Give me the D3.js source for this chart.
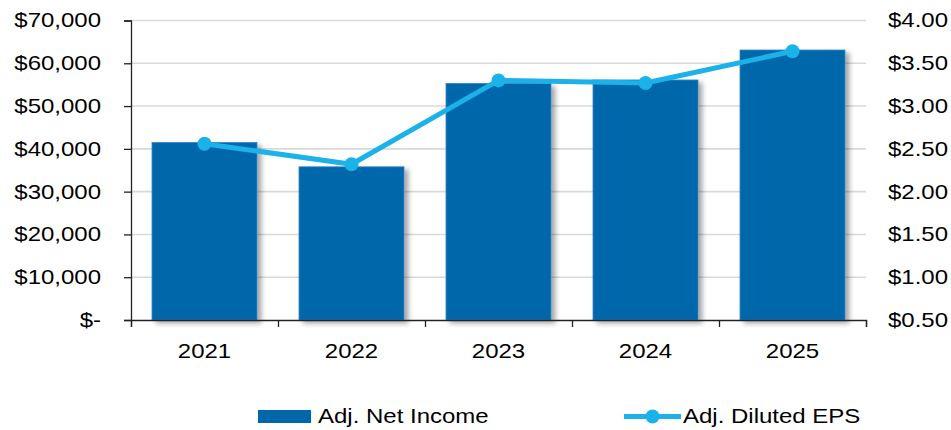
<!DOCTYPE html>
<html>
<head>
<meta charset="utf-8">
<script src="https://cdn.jsdelivr.net/npm/d3@7/dist/d3.min.js"></script>
<style>
  html, body { margin: 0; padding: 0; background: #fff; }
  svg { display: block; }
  text { font-family: "Liberation Sans", Arial, sans-serif; fill: #000; }
</style>
</head>
<body>
<svg id="chart" width="951" height="430"></svg>
<script>
const years = ["2021", "2022", "2023", "2024", "2025"];
const netIncome = [41500, 35800, 55300, 56100, 63100];
const dilutedEPS = [2.56, 2.32, 3.30, 3.27, 3.64];
const leftTicks = [0, 10000, 20000, 30000, 40000, 50000, 60000, 70000];
const rightTicks = [0.5, 1.0, 1.5, 2.0, 2.5, 3.0, 3.5, 4.0];
const seriesNames = ["Adj. Net Income", "Adj. Diluted EPS"];

const BAR = "#0068aa", LINE = "#1ab2e9", GRID = "#d9d9d9";
const SX = 1.2, FS = 20;

const svg = d3.select("#chart");
const L = 131, R = 866, T = 20.5, B = 320;

const defs = svg.append("defs");
const f = defs.append("filter").attr("id", "shadow")
  .attr("x", "-10%").attr("y", "-10%").attr("width", "130%").attr("height", "130%");
f.append("feDropShadow").attr("dx", 4).attr("dy", 3).attr("stdDeviation", 2.5)
  .attr("flood-color", "#000").attr("flood-opacity", 0.35);

const x = d3.scaleBand().domain(years).range([L, R]).paddingInner(42/147).paddingOuter(21/147);
const xb = d3.scaleLinear().domain([0, years.length]).range([L, R]);
const yL = d3.scaleLinear().domain([0, 70000]).range([B, T]);
const yR = d3.scaleLinear().domain([0.5, 4.0]).range([B, T]);

function stretch(sel) {
  sel.each(function() {
    const t = d3.select(this);
    const xv = +t.attr("x") || 0;
    t.attr("x", xv / SX).attr("transform", `scale(${SX},1)`);
  });
}

// gridlines
svg.append("g").selectAll("line").data(leftTicks.slice(1)).join("line")
  .attr("x1", L).attr("x2", R)
  .attr("y1", d => yL(d)).attr("y2", d => yL(d))
  .attr("stroke", GRID).attr("stroke-width", 1.6);

// bars
svg.append("g").selectAll("rect").data(years).join("rect")
  .attr("x", d => x(d)).attr("width", x.bandwidth())
  .attr("y", (d, i) => yL(netIncome[i]))
  .attr("height", (d, i) => B - yL(netIncome[i]))
  .attr("fill", BAR).attr("stroke", "#3a86c2").attr("stroke-width", 0.8)
  .attr("filter", "url(#shadow)");

// left axis
const gL = svg.append("g").attr("transform", `translate(${L},0)`)
  .call(d3.axisLeft(yL).tickValues(leftTicks).tickSize(7).tickPadding(23)
    .tickFormat(d => d === 0 ? "$-" : "$" + d3.format(",")(d)));
gL.select(".domain").attr("stroke", "#222").attr("stroke-width", 1.3);
gL.selectAll(".tick line").attr("stroke", "#222").attr("stroke-width", 1.3);
gL.selectAll("text").attr("font-size", FS).attr("font-family", "Liberation Sans, Arial, sans-serif").call(stretch);

// right axis
const gR = svg.append("g").attr("transform", `translate(${R},0)`)
  .call(d3.axisRight(yR).tickValues(rightTicks).tickSize(0).tickPadding(22)
    .tickFormat(d => "$" + d3.format(".2f")(d)));
gR.select(".domain").remove();
gR.selectAll("text").attr("font-size", FS).attr("font-family", "Liberation Sans, Arial, sans-serif").call(stretch);

// bottom axis ticks (band boundaries)
const gB = svg.append("g").attr("transform", `translate(0,${B})`)
  .call(d3.axisBottom(xb).tickValues(d3.range(years.length + 1)).tickSize(7).tickFormat(""));
gB.select(".domain").attr("stroke", "#222").attr("stroke-width", 1.3);
gB.selectAll(".tick line").attr("stroke", "#222").attr("stroke-width", 1.3);

// bottom axis labels
const gX = svg.append("g").attr("transform", `translate(0,${B})`)
  .call(d3.axisBottom(x).tickSize(0).tickPadding(24));
gX.select(".domain").remove();
gX.selectAll("text").attr("font-size", FS).attr("font-family", "Liberation Sans, Arial, sans-serif").call(stretch);

// EPS line
const cx = d => x(d) + x.bandwidth() / 2;
const lineGen = d3.line().x((d, i) => cx(years[i])).y(d => yR(d));
svg.append("path").datum(dilutedEPS).attr("d", lineGen)
  .attr("fill", "none").attr("stroke", LINE).attr("stroke-width", 5).attr("stroke-linejoin", "round");
svg.append("g").selectAll("circle").data(dilutedEPS).join("circle")
  .attr("cx", (d, i) => cx(years[i])).attr("cy", d => yR(d)).attr("r", 7).attr("fill", LINE);

// legend
const lg = svg.append("g");
lg.append("rect").attr("x", 258).attr("y", 410).attr("width", 53).attr("height", 13).attr("fill", BAR);
lg.append("text").attr("x", 318 / SX).attr("y", 423).attr("transform", `scale(${SX},1)`)
  .attr("font-size", FS).text(seriesNames[0]);
lg.append("line").attr("x1", 624).attr("x2", 681).attr("y1", 416.5).attr("y2", 416.5)
  .attr("stroke", LINE).attr("stroke-width", 5);
lg.append("circle").attr("cx", 652.5).attr("cy", 416.5).attr("r", 7).attr("fill", LINE);
lg.append("text").attr("x", 683 / SX).attr("y", 423).attr("transform", `scale(${SX},1)`)
  .attr("font-size", FS).text(seriesNames[1]);
</script>
</body>
</html>
